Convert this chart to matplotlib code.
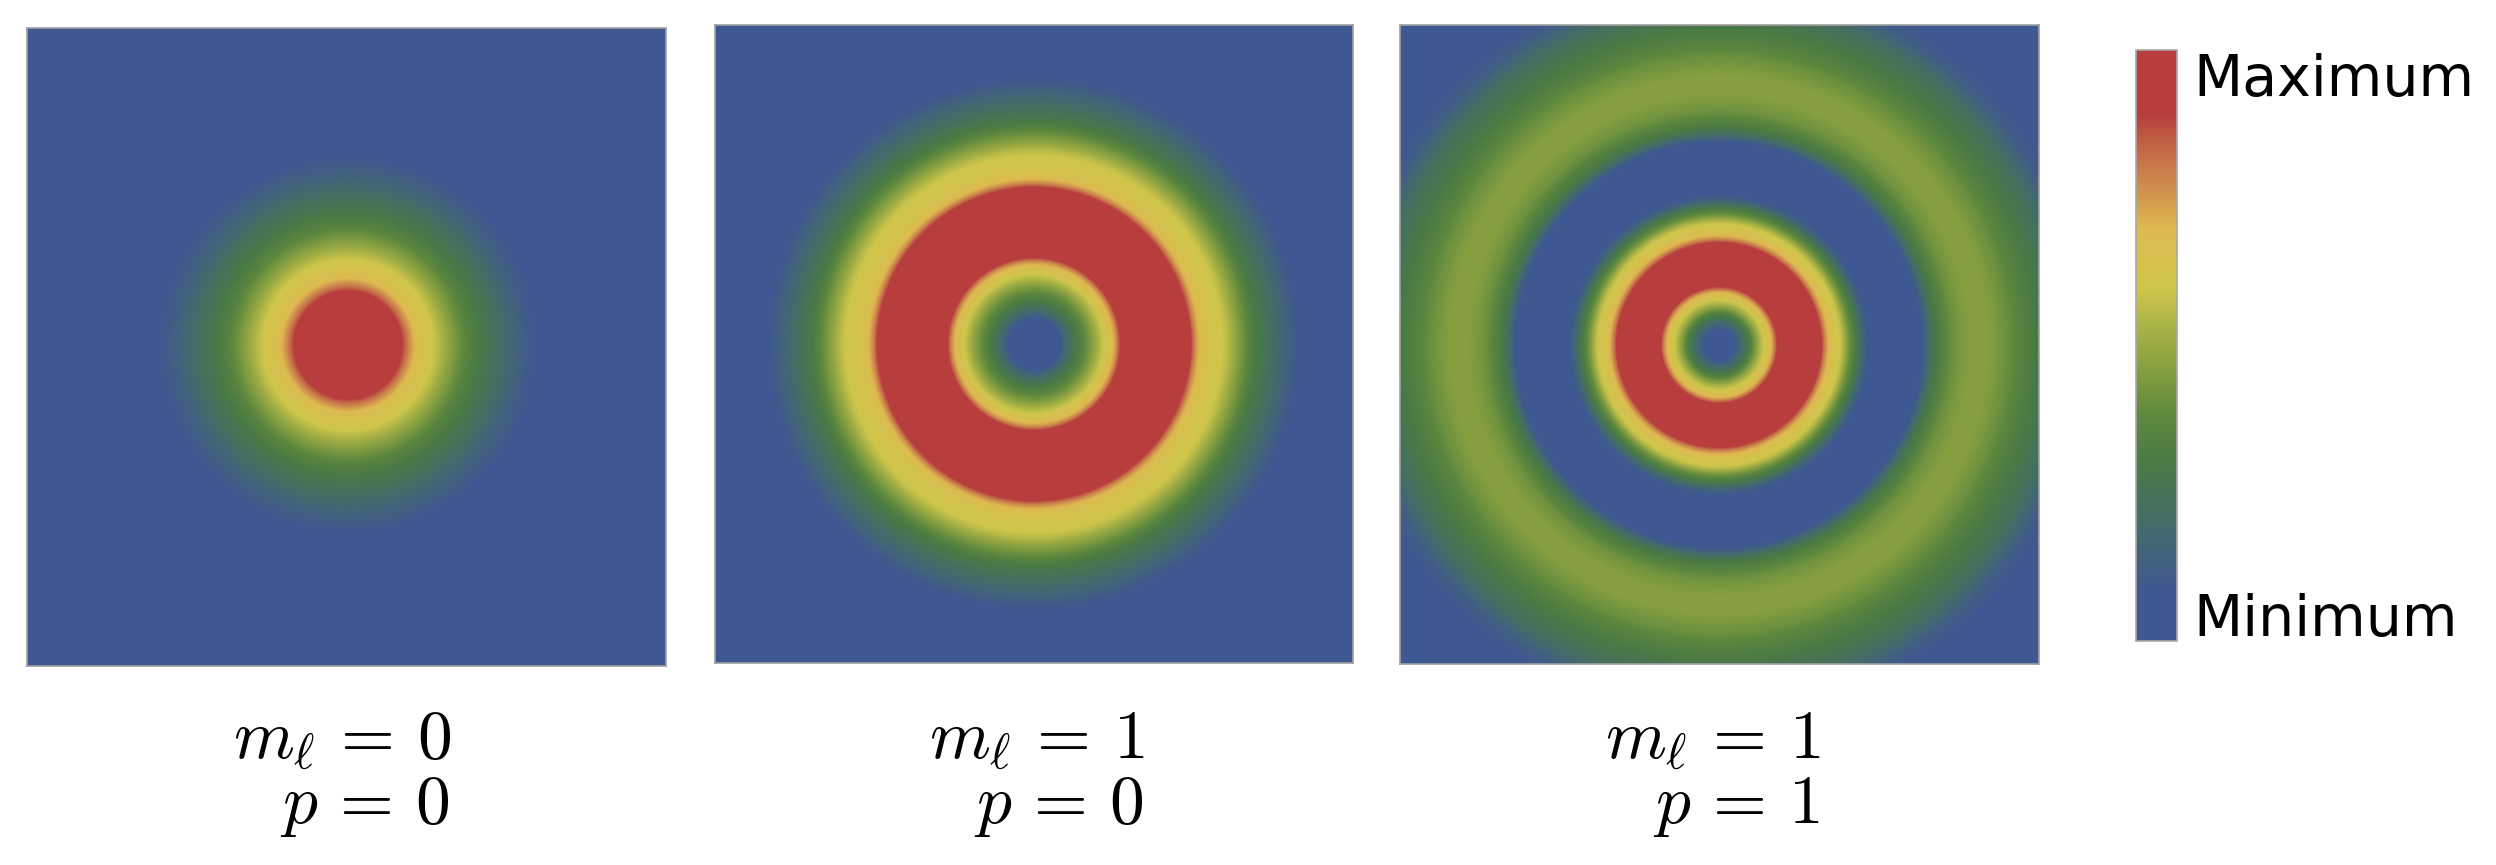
import numpy as np
import matplotlib
matplotlib.use('Agg')
import matplotlib.pyplot as plt
from matplotlib.colors import LinearSegmentedColormap
from matplotlib.cm import ScalarMappable

W, H = 2496, 865

# colour scale, bottom to top
cbar_pos = [0, 0.086, 0.155, 0.224, 0.30, 0.376, 0.445, 0.514, 0.597, 0.70, 0.762, 0.83, 0.893, 1]
cbar_col = ['#3e5891', '#3e5891', '#436578', '#45705f', '#4a7a45', '#5c873e', '#7e9b40',
            '#a0ad44', '#cfc64c', '#dfb950', '#cf914d', '#c46a47', '#b83d3d', '#b83d3d']

# radial profiles, radius in px from ring centre / level on the colour scale
r1 = [0, 50, 54, 62, 70, 85, 98, 115, 130, 150, 165, 190, 210, 500]
v1 = [1, 1, 0.89, 0.76, 0.66, 0.60, 0.50, 0.38, 0.30, 0.22, 0.155, 0.08, 0.03, 0]

r2 = [0, 20, 25, 34, 43, 55, 70, 81, 88, 155, 162, 171, 190, 203, 222, 247, 267, 290, 500]
v2 = [0, 0.03, 0.08, 0.2, 0.30, 0.42, 0.60, 0.72, 0.95, 0.95, 0.74, 0.64, 0.59, 0.47, 0.30, 0.17, 0.08, 0.02, 0]

r3 = [0, 12, 15, 22, 30, 38, 45, 54, 59, 101, 107, 114, 123, 128, 137, 143, 150, 203, 210, 217,
      233, 250, 270, 290, 305, 317, 340, 358, 375, 395, 500]
v3 = [0, 0.03, 0.08, 0.18, 0.30, 0.48, 0.60, 0.72, 0.95, 0.95, 0.74, 0.64, 0.58, 0.45, 0.30, 0.18, 0.08,
      0.08, 0.2, 0.30, 0.41, 0.46, 0.46, 0.40, 0.34, 0.30, 0.22, 0.12, 0.08, 0.05, 0]

radii = [r1, r2, r3]
levels = [v1, v2, v3]
m_vals = ['0', '1', '1']
p_vals = ['0', '0', '1']

# left, right, top, bottom, centre x, centre y (px)
panels = [(27, 666, 28, 666, 348, 345),
          (715, 1353, 25, 663, 1034, 344),
          (1400, 2039, 25, 664, 1719, 345)]
# right edge of the labels
label_right = [451, 1145, 1821]

plt.rcParams['mathtext.fontset'] = 'cm'

cmap = LinearSegmentedColormap.from_list('field', list(zip(cbar_pos, cbar_col)), N=512)

fig = plt.figure(figsize=(W / 100, H / 100), dpi=100)

def rect(l, r, t, b):
    return [l / W, 1 - b / H, (r - l) / W, (b - t) / H]

for i, (l, r, t, b, cx, cy) in enumerate(panels):
    ax = fig.add_axes(rect(l, r, t, b))
    xx, yy = np.meshgrid(np.arange(l, r) + 0.5 - cx, np.arange(t, b) + 0.5 - cy)
    # soften the knots a little, the field in the picture has no creases
    rr = np.arange(0, 500)
    prof = np.interp(rr, radii[i], levels[i])
    pad = np.r_[prof[3:0:-1], prof, prof[-1] * np.ones(3)]
    prof = np.convolve(pad, np.ones(7) / 7, mode='valid')
    img = np.interp(np.hypot(xx, yy), rr, prof)
    ax.imshow(img, cmap=cmap, vmin=0, vmax=1, aspect='auto', interpolation='bilinear')
    ax.set_xticks([])
    ax.set_yticks([])
    for s in ax.spines.values():
        s.set_color('#a0a0a0')
        s.set_linewidth(1.2)

    fig.text(label_right[i] / W, 1 - 758 / H, r'$m_\ell\,=\,%s$' % m_vals[i], fontsize=50,
             ha='right', va='baseline', color='black')
    fig.text((label_right[i] - 1) / W, 1 - 823 / H, r'$p\,=\,%s$' % p_vals[i], fontsize=50,
             ha='right', va='baseline', color='black')

cax = fig.add_axes(rect(2136, 2177, 50, 641))
cb = fig.colorbar(ScalarMappable(cmap=cmap, norm=plt.Normalize(0, 1)), cax=cax)
cb.set_ticks([])
cb.outline.set_edgecolor('#a8a8a8')
cb.outline.set_linewidth(1.2)

fig.text(2193 / W, 1 - 96 / H, 'Maximum', fontsize=41, family='DejaVu Sans', color='black', va='baseline')
fig.text(2193 / W, 1 - 636 / H, 'Minimum', fontsize=41, family='DejaVu Sans', color='black', va='baseline')

fig.savefig('out.png', dpi=100)
